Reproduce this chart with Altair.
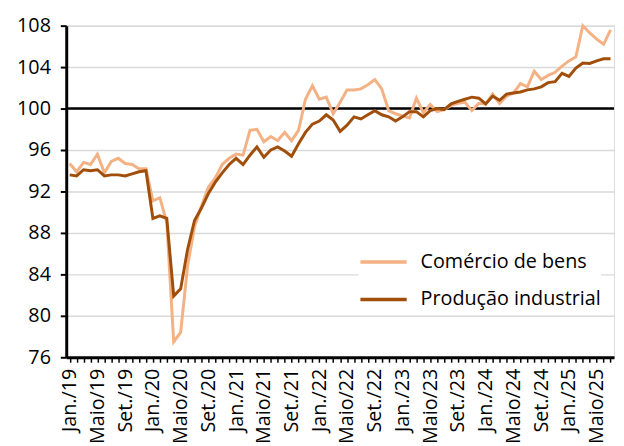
import altair as alt
import pandas as pd

# Monthly index, Jan/19 .. Jul/25
comercio = [94.7, 93.9, 94.8, 94.6, 95.6, 93.8, 94.9, 95.2, 94.7, 94.6, 94.2, 94.2,
            91.1, 91.4, 89.0, 77.5, 78.4, 84.8, 88.6, 90.6, 92.4, 93.3, 94.6, 95.2,
            95.6, 95.5, 97.9, 98.0, 96.8, 97.3, 96.9, 97.7, 96.9, 97.9, 100.9, 102.2,
            100.9, 101.1, 99.5, 100.6, 101.8, 101.8, 101.9, 102.3, 102.8, 101.9, 99.8, 99.5,
            99.3, 99.1, 101.0, 99.6, 100.4, 99.7, 99.9, 100.3, 100.5, 100.6, 99.8, 100.5,
            100.45, 101.4, 100.5, 101.2, 101.5, 102.4, 102.1, 103.6, 102.8, 103.2, 103.5, 104.1,
            104.6, 105.0, 108.0, 107.3, 106.7, 106.2, 107.6]
producao = [93.6, 93.5, 94.1, 94.0, 94.1, 93.5, 93.6, 93.6, 93.5, 93.7, 93.9, 94.0,
            89.4, 89.65, 89.4, 81.9, 82.6, 86.4, 89.2, 90.4, 91.8, 92.9, 93.8, 94.6,
            95.2, 94.6, 95.5, 96.3, 95.3, 96.0, 96.3, 95.9, 95.4, 96.6, 97.7, 98.5,
            98.8, 99.4, 98.9, 97.8, 98.4, 99.2, 99.0, 99.4, 99.8, 99.4, 99.2, 98.8,
            99.2, 99.7, 99.7, 99.2, 99.8, 100.0, 99.9, 100.45, 100.7, 100.9, 101.1, 101.0,
            100.45, 101.2, 100.8, 101.4, 101.5, 101.6, 101.8, 101.9, 102.1, 102.5, 102.6, 103.4,
            103.1, 103.9, 104.4, 104.35, 104.6, 104.8, 104.8]
tick_labels = ["Jan./19", "Maio/19", "Set./19", "Jan./20", "Maio/20", "Set./20",
               "Jan./21", "Maio/21", "Set./21", "Jan./22", "Maio/22", "Set./22",
               "Jan./23", "Maio/23", "Set./23", "Jan./24", "Maio/24", "Set./24",
               "Jan./25", "Maio/25"]
series_names = ["Comércio de bens", "Produção industrial"]
series_colors = ["#F4B183", "#A04E0A"]
y_ticks = [76, 80, 84, 88, 92, 96, 100, 104, 108]
ref_value = [100]

FONT = "Open Sans"
n = len(comercio)
df = pd.DataFrame({
    "i": list(range(n)) * 2,
    "v": comercio + producao,
    "s": [series_names[0]] * n + [series_names[1]] * n,
})

arr = "[" + ",".join("'" + t + "'" for t in tick_labels) + "]"
label_expr = "datum.value % 4 == 0 ? " + arr + "[datum.value / 4] : ''"

x = alt.X("i:Q",
          scale=alt.Scale(domain=[-0.5, n - 0.5], nice=False, zero=False),
          axis=alt.Axis(values=list(range(n)), labelExpr=label_expr, labelAngle=270,
                        labelOverlap=False, labelFlush=False, grid=False,
                        domainColor="black", domainWidth=3, tickColor="black",
                        tickSize=5, tickWidth=1.5, labelFontSize=20, labelFont=FONT,
                        labelColor="black", labelPadding=6, title=None))
y = alt.Y("v:Q",
          scale=alt.Scale(domain=[76, 108], nice=False, zero=False),
          axis=alt.Axis(values=y_ticks, grid=True, gridColor="#D9D9D9", gridWidth=1.5,
                        domainColor="black", domainWidth=3, tickColor="black",
                        tickSize=6, tickWidth=2, labelFontSize=20, labelFont=FONT,
                        labelColor="black", labelPadding=10, title=None))
color = alt.Color("s:N",
                  scale=alt.Scale(domain=series_names, range=series_colors),
                  legend=alt.Legend(title=None, orient="none", legendX=296, legendY=214,
                                    symbolType="stroke", symbolSize=2200,
                                    symbolStrokeWidth=3.5, labelFontSize=20,
                                    labelFont=FONT, labelColor="black", labelLimit=0,
                                    rowPadding=2, labelOffset=12, padding=0,
                                    fillColor="white"))

base = alt.Chart(df).encode(x=x, y=y, color=color)
light = base.transform_filter(alt.datum.s == series_names[0]).mark_line(strokeWidth=3)
dark = base.transform_filter(alt.datum.s == series_names[1]).mark_line(strokeWidth=3)
rule = alt.Chart(pd.DataFrame({"v": ref_value})).mark_rule(color="black", strokeWidth=2.5).encode(
    y=alt.Y("v:Q"))

chart = alt.layer(rule, light, dark).properties(
    width=555, height=336,
    autosize=alt.AutoSizeParams(type="none"),
    padding={"left": 59, "top": 15, "right": 2, "bottom": 87},
).configure_view(stroke=None).configure(font=FONT)

chart.save("out.html", embed_options={"renderer": "svg", "actions": False})
